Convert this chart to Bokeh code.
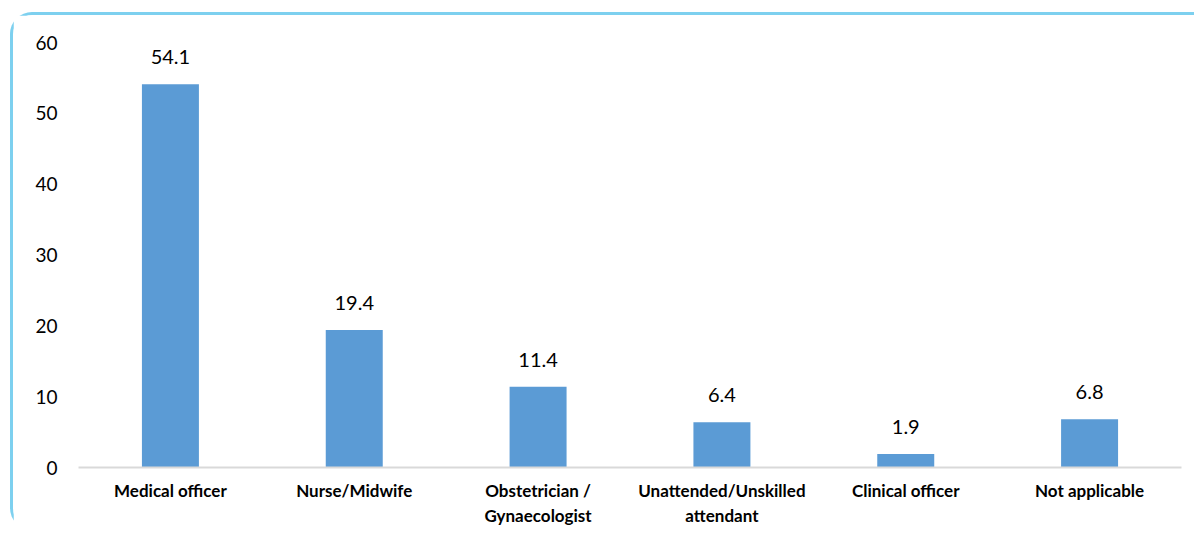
from bokeh.plotting import figure
from bokeh.models import ColumnDataSource, FixedTicker, Range1d
from bokeh.core.properties import value
from bokeh.embed import file_html
from bokeh.resources import INLINE

categories = ["Medical officer", "Nurse/Midwife", "Obstetrician /\nGynaecologist",
              "Unattended/Unskilled\nattendant", "Clinical officer", "Not applicable"]
values = [54.1, 19.4, 11.4, 6.4, 1.9, 6.8]
labels = ["54.1", "19.4", "11.4", "6.4", "1.9", "6.8"]
y_ticks = [0, 10, 20, 30, 40, 50, 60]

src = ColumnDataSource(dict(cat=categories, val=values, lab=labels))

p = figure(x_range=categories, y_range=Range1d(0, 60), width=1184, height=518,
           output_backend="svg", toolbar_location=None,
           min_border_left=65, min_border_right=16, min_border_top=27, min_border_bottom=66)
p.styles = {"margin-left": "10px", "margin-top": "12px",
            "border-top": "3px solid #7DD0EF", "border-left": "3px solid #7DD0EF",
            "border-top-left-radius": "22px", "border-bottom-left-radius": "22px"}
p.outline_line_color = None
p.xgrid.grid_line_color = None
p.ygrid.grid_line_color = None

p.vbar(x="cat", top="val", width=0.31, source=src, color="#5B9BD5", line_color=None)
p.text(x="cat", y="val", text="lab", source=src, text_align="center", text_baseline="bottom",
       y_offset=-20, text_font=value("Lato"), text_font_size="20px", text_color="#000000")

p.yaxis.ticker = FixedTicker(ticks=y_ticks)
p.yaxis.axis_line_color = None
p.yaxis.major_tick_line_color = None
p.yaxis.minor_tick_line_color = None
p.yaxis.major_label_text_font = "Lato"
p.yaxis.major_label_text_font_size = "19px"
p.yaxis.major_label_text_color = "#000000"
p.yaxis.major_label_standoff = 15

p.xaxis.axis_line_color = "#D9D9D9"
p.xaxis.axis_line_width = 2
p.xaxis.major_tick_line_color = None
p.xaxis.minor_tick_line_color = None
p.xaxis.major_label_text_font = "Lato"
p.xaxis.major_label_text_font_style = "bold"
p.xaxis.major_label_text_font_size = "17px"
p.xaxis.major_label_text_color = "#000000"
p.xaxis.major_label_standoff = 6

open("out.html", "w").write(file_html(p, INLINE))
